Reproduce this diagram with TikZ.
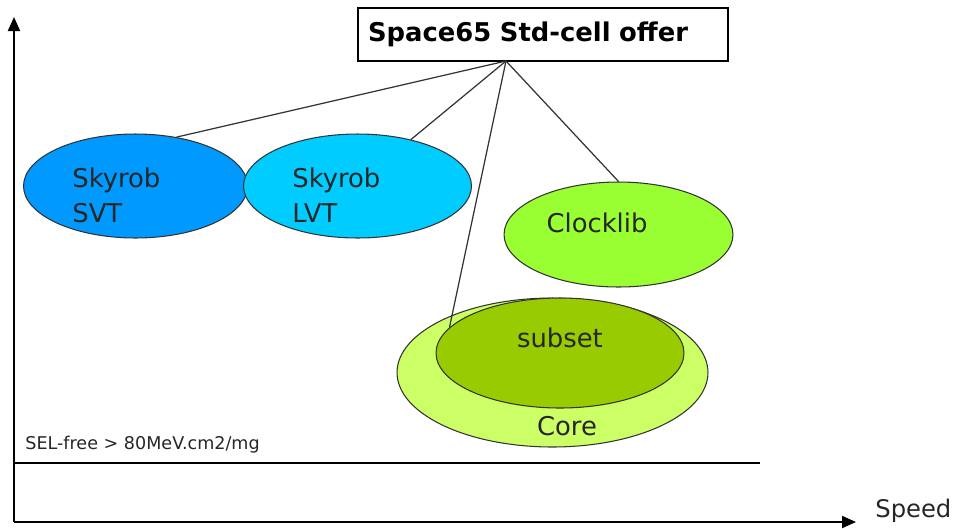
\documentclass[tikz,border=0pt]{standalone}
\usepackage{fontspec}
\setmainfont{DejaVu Sans}
\usepackage{xcolor}
\usepackage{tikz}
\usetikzlibrary{shapes.geometric, arrows.meta, positioning}
\definecolor{svtblue}{HTML}{0099FF}
\definecolor{lvtblue}{HTML}{00CCFF}
\definecolor{clockgreen}{HTML}{99FF33}
\definecolor{coregreen}{HTML}{CCFF66}
\definecolor{subsetgreen}{HTML}{99CC00}
\newcommand{\libfont}{\fontsize{14.7}{19.4}\selectfont}
\newcommand{\selfont}{\fontsize{10}{11}\selectfont}
\tikzset{
  libellipse/.style = {ellipse, draw=black!80, line width=0.6pt,
                       inner sep=0pt},                  % library bubbles
  libtext/.style    = {font=\libfont, text=black!85, inner sep=0pt,
                       anchor=base west, align=left},
  titlebox/.style   = {rectangle, draw, line width=0.8pt, fill=white,
                       font=\libfont\bfseries, inner xsep=0.2cm,
                       text width=7cm, align=left,
                       minimum width=7.4cm, minimum height=1.06cm},
  link/.style       = {draw=black!80, line width=0.7pt},
  axis/.style       = {-{Triangle[length=0.28cm, width=0.24cm]},
                       line width=1.1pt}
}
\begin{document}
\begin{tikzpicture}[x=0.02cm, y=-0.02cm]
  \useasboundingbox (0,0) rectangle (955,528);
  % axes
  \coordinate (origin) at (14,522);
  \coordinate (ytip) at (14,17);
  \coordinate (xtip) at (856,522);
  \draw[axis] (origin) -- (ytip);
  \draw[axis] (origin) -- (xtip);
  \node[font=\fontsize{13.8}{16}\selectfont, text=black!85, inner sep=0pt,
        anchor=base west] (speed) at (875,517) {Speed};
  % SEL limit
  \coordinate (selL) at (14,463);
  \coordinate (selR) at (760,463);
  \draw[line width=0.7pt] (selL) -- (selR);
  \node[font=\selfont, text=black!85, inner sep=0pt, anchor=base west]
    (sel) at (25,449) {SEL-free > 80MeV.cm2/mg};
  % libraries
  \node[libellipse, fill=svtblue, minimum width=4.48cm, minimum height=2.08cm]
    (svt) at (135.5,186) {};
  \node[libellipse, fill=lvtblue, minimum width=4.56cm, minimum height=2.08cm]
    (lvt) at (357.5,186) {};
  \node[libellipse, fill=clockgreen, minimum width=4.58cm, minimum height=2.1cm]
    (clock) at (618.5,234.5) {};
  \node[libellipse, fill=coregreen, minimum width=6.22cm, minimum height=2.98cm]
    (core) at (552.5,372.5) {};
  \node[libellipse, fill=subsetgreen, minimum width=4.96cm, minimum height=2.2cm]
    (subset) at (560,353) {};
  \node[libtext] (svttxt) at (72,222) {Skyrob\\SVT};
  \node[libtext] (lvttxt) at (292,222) {Skyrob\\LVT};
  \node[libtext, anchor=base] (clocktxt) at (597,232) {Clocklib};
  \node[libtext, anchor=base] (subsettxt) at (560,347) {subset};
  \node[libtext, anchor=base] (coretxt) at (567,435) {Core};
  % offer
  \node[titlebox] (offer) at (543,34.5) {Space65 Std-cell offer};
  \coordinate (apex) at (506,61);
  \draw[link] (apex) -- (svt.50);
  \draw[link] (apex) -- (lvt.41);
  \draw[link] (apex) -- (clock.90);
  \draw[link] (apex) -- (subset.167);
\end{tikzpicture}
\end{document}
